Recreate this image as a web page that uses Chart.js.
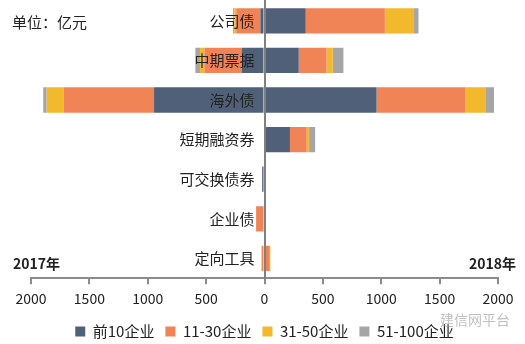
<!DOCTYPE html>
<html>
<head>
<meta charset="utf-8">
<script src="https://cdn.jsdelivr.net/npm/chart.js@4/dist/chart.umd.min.js"></script>
<style>
  html, body { margin: 0; padding: 0; background: #fff; }
  #wrap { width: 525px; height: 344px; }
</style>
</head>
<body>
<div id="wrap"><canvas id="bondChart" width="525" height="344"></canvas></div>
<script>
const categories = ["公司债", "中期票据", "海外债", "短期融资券", "可交换债券", "企业债", "定向工具"];
const seriesNames = ["前10企业", "11-30企业", "31-50企业", "51-100企业"];
const colors = ["#506079", "#F08456", "#F2B92D", "#A5A5A5"];

// 2018 (right side)
const top10_2018 = [353, 293, 960, 218, 0, 0, 0];
const r11_30_2018 = [678, 239, 759, 144, 0, 0, 45];
const r31_50_2018 = [250, 52, 172, 20, 0, 0, 5];
const r51_100_2018 = [38, 92, 75, 52, 0, 0, 0];

// 2017 (left side, drawn as negatives)
const top10_2017 = [35, 193, 946, 0, 20, 0, 0];
const r11_30_2017 = [207, 322, 776, 0, 0, 72, 25];
const r31_50_2017 = [17, 37, 144, 0, 0, 0, 0];
const r51_100_2017 = [10, 40, 29, 0, 0, 0, 0];

const xTicks = [-2000, -1500, -1000, -500, 0, 500, 1000, 1500, 2000];

const right = [top10_2018, r11_30_2018, r31_50_2018, r51_100_2018];
const left = [top10_2017, r11_30_2017, r31_50_2017, r51_100_2017];

const datasets = [];
right.forEach((d, i) => {
    datasets.push({
        label: seriesNames[i],
        data: d,
        backgroundColor: colors[i],
        stack: "s",
        barPercentage: 1,
        categoryPercentage: 0.64
    });
});
left.forEach((d, i) => {
    datasets.push({
        label: seriesNames[i] + "_2017",
        data: d.map(v => -v),
        backgroundColor: colors[i],
        stack: "s",
        barPercentage: 1,
        categoryPercentage: 0.64
    });
});

// category names sit just left of the zero line, on top of the bars
const catLabels = {
    id: "catLabels",
    afterDatasetsDraw(chart) {
        const ctx = chart.ctx;
        const xs = chart.scales.x, ys = chart.scales.y;
        const x0 = xs.getPixelForValue(0);
        ctx.save();
        ctx.fillStyle = "#222";
        ctx.font = "15px 'Noto Sans CJK SC'";
        ctx.textAlign = "right";
        ctx.textBaseline = "middle";
        categories.forEach((c, i) => ctx.fillText(c, x0 - 10, ys.getPixelForValue(i)));
        ctx.restore();
    }
};

const textPlugin = {
    id: "extraText",
    afterDraw(chart) {
        const ctx = chart.ctx;
        ctx.save();
        ctx.fillStyle = "#222";
        ctx.textBaseline = "middle";
        ctx.font = "15px 'Noto Sans CJK SC'";
        ctx.textAlign = "left";
        ctx.fillText("单位：亿元", 12, 22);
        ctx.font = "bold 14px 'Noto Sans CJK SC'";
        ctx.fillText("2017年", 13, 264);
        ctx.textAlign = "right";
        ctx.fillText("2018年", 516, 264);
        ctx.font = "14px 'Noto Sans CJK SC'";
        ctx.fillStyle = "rgba(150,150,150,0.6)";
        ctx.fillText("建信网平台", 510, 320);
        ctx.restore();
    }
};

new Chart(document.getElementById("bondChart").getContext("2d"), {
    type: "bar",
    data: { labels: categories, datasets: datasets },
    options: {
        indexAxis: "y",
        responsive: false,
        animation: false,
        layout: { padding: { left: 31, right: 27, top: 1, bottom: -5 } },
        plugins: {
            legend: {
                position: "bottom",
                labels: {
                    filter: item => item.datasetIndex < 4,
                    boxWidth: 10,
                    boxHeight: 10,
                    padding: 11,
                    color: "#222",
                    font: { size: 15, family: "'Noto Sans CJK SC'" }
                }
            },
            tooltip: { enabled: false }
        },
        scales: {
            x: {
                stacked: true,
                min: -2000,
                max: 2000,
                afterBuildTicks: axis => { axis.ticks = xTicks.map(v => ({ value: v })); },
                ticks: {
                    callback: v => Math.abs(v),
                    color: "#222",
                    maxRotation: 0,
                    padding: 6,
                    font: { size: 14, family: "'Noto Sans CJK SC'" }
                },
                grid: { drawOnChartArea: false, drawTicks: true, tickLength: 6, color: "#8c8c8c", lineWidth: 2 },
                border: { color: "#8c8c8c", width: 2 }
            },
            y: {
                stacked: true,
                position: { x: 0 },
                ticks: { display: false },
                grid: { display: false },
                border: { color: "#808080", width: 2, z: 1 }
            }
        }
    },
    plugins: [catLabels, textPlugin]
});
</script>
</body>
</html>
